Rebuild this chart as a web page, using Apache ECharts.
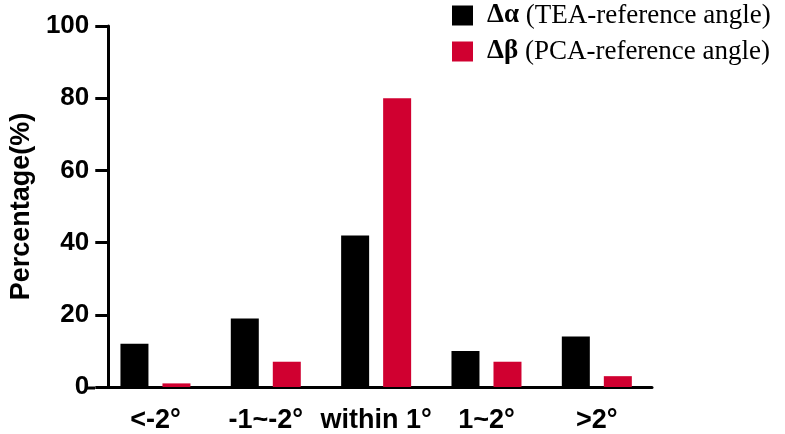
<!DOCTYPE html>
<html>
<head>
<meta charset="utf-8">
<script src="https://cdn.jsdelivr.net/npm/echarts@6/dist/echarts.min.js"></script>
<style>
	html, body { margin: 0; padding: 0; background: #fff; }
	#chart { width: 785px; height: 434px; }
</style>
</head>
<body>
<div id="chart"></div>
<script>
	// categories and values
	var categories = ['<-2°', '-1~-2°', 'within 1°', '1~2°', '>2°'];
	var alphaValues = [12, 19, 42, 10, 14];
	var betaValues = [1, 7, 80, 7, 3];
	var seriesNames = ['Δα (TEA-reference angle)', 'Δβ (PCA-reference angle)'];
	var yTicks = [0, 20, 40, 60, 80, 100];

	var myChart = echarts.init(document.getElementById('chart'));

	var option = {
		animation: false,
		grid: {
			left: 94,
			width: 558,
			top: 26,
			bottom: 46
		},
		// little stub of the x axis line that pokes out left of the y axis
		graphic: [{
			type: 'line',
			shape: { x1: 87, y1: 388, x2: 95, y2: 388 },
			style: { stroke: '#000', lineWidth: 3 }
		}],
		legend: {
			orient: 'vertical',
			left: 452,
			top: 2,
			padding: 0,
			itemWidth: 21,
			itemHeight: 20,
			itemGap: 9,
			icon: 'rect',
			data: seriesNames,
			formatter: function (name) {
				var i = name.indexOf(' ');
				return '{b|' + name.slice(0, i) + '}{n|' + name.slice(i) + '}';
			},
			textStyle: {
				padding: [0, 0, 0, 9],
				rich: {
					b: { fontFamily: 'Liberation Serif', fontWeight: 'bold', fontSize: 27, color: '#000' },
					n: { fontFamily: 'Liberation Serif', fontSize: 27, color: '#000' }
				}
			}
		},
		xAxis: {
			type: 'category',
			data: categories,
			axisLine: { lineStyle: { color: '#000', width: 3 } },
			axisTick: { alignWithLabel: true, length: 14, lineStyle: { color: '#000', width: 3 } },
			axisLabel: {
				interval: 0,
				margin: 20,
				color: '#000',
				fontFamily: 'Liberation Sans',
				fontWeight: 'bold',
				fontSize: 27
			}
		},
		yAxis: {
			type: 'value',
			min: yTicks[0],
			max: yTicks[yTicks.length - 1],
			interval: 20,
			offset: -8,
			name: 'Percentage(%)',
			nameLocation: 'middle',
			nameGap: 70,
			nameTextStyle: {
				color: '#000',
				fontFamily: 'Liberation Sans',
				fontWeight: 'bold',
				fontSize: 27
			},
			splitLine: { show: false },
			axisLine: { show: true, lineStyle: { color: '#000', width: 3 } },
			axisTick: { show: true, length: 13, lineStyle: { color: '#000', width: 3 } },
			axisLabel: {
				margin: 19,
				color: '#000',
				fontFamily: 'Liberation Sans',
				fontWeight: 'bold',
				fontSize: 26
			}
		},
		series: [
			{
				name: seriesNames[0],
				type: 'bar',
				data: alphaValues,
				barWidth: 28,
				barGap: '50%',
				itemStyle: { color: '#000' }
			},
			{
				name: seriesNames[1],
				type: 'bar',
				data: betaValues,
				barWidth: 28,
				barGap: '50%',
				itemStyle: { color: '#d00030' }
			}
		]
	};
	myChart.setOption(option);
</script>
</body>
</html>
